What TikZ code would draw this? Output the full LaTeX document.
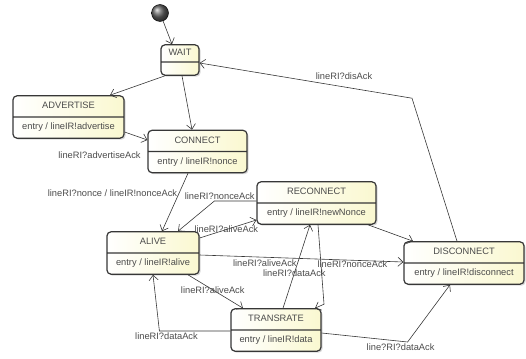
\documentclass[tikz,border=0pt]{standalone}
\usepackage{fontspec}
\setmainfont{Liberation Sans}
\usetikzlibrary{shapes.multipart,shadows,arrows.meta}
\definecolor{stfill}{RGB}{250,248,208}
\definecolor{stline}{RGB}{55,55,55}
\definecolor{txt}{RGB}{75,75,75}

\begin{document}
\begin{tikzpicture}[x=1pt,y=-1pt,
  state/.style={rectangle split, rectangle split parts=2, draw=stline, line width=1.2pt,
    rounded corners=4pt, left color=white, right color=stfill,
    drop shadow={shadow xshift=1.5pt,shadow yshift=-1.5pt,opacity=.3},
    font=\fontsize{9.3}{11}\selectfont, text=txt, inner ysep=4.5pt},
  lbl/.style={font=\fontsize{9.3}{11}\selectfont, text=txt, inner sep=1.5pt},
  tr/.style={->, draw=stline, line width=.6pt, >={Straight Barb[length=5pt,width=9pt]}}]
\useasboundingbox (0,0) rectangle (526,358);

\node [circle, draw=black, ball color=gray!80!black, minimum size=17pt, inner sep=0] (init) at (160,13) {};
\node [state, minimum width=38pt, inner ysep=2.5pt, rectangle split empty part height=7pt] (wait) at (180,60) {\strut WAIT};
\node [state, minimum width=111pt] (advertise) at (68.5,117) {\strut ADVERTISE \nodepart{two}\strut entry / lineIR!advertise};
\node [state, minimum width=99pt] (connect) at (197.5,151.5) {\strut CONNECT \nodepart{two}\strut entry / lineIR!nonce};
\node [state, minimum width=92pt] (alive) at (153,253) {\strut ALIVE \nodepart{two}\strut entry / lineIR!alive};
\node [state, minimum width=119pt] (reconnect) at (316.5,203) {\strut RECONNECT \nodepart{two}\strut entry / lineIR!newNonce};
\node [state, minimum width=120pt] (disconnect) at (464,263) {\strut DISCONNECT \nodepart{two}\strut entry / lineIR!disconnect};
\node [state, minimum width=90pt] (transrate) at (276,330) {\strut TRANSRATE \nodepart{two}\strut entry / lineIR!data};

\draw [tr] (init) -- ([xshift=-8pt]wait.north);
\draw [tr] ([xshift=-15pt]wait.south) -- ([xshift=41.5pt]advertise.north);
\draw [tr] ([xshift=2pt]wait.south) -- ([xshift=-5.5pt]connect.north);
\draw [tr] ([yshift=-15pt]advertise.east) -- node[lbl, pos=1, anchor=east, xshift=-5pt, yshift=-15pt] {lineRI?advertiseAck} ([yshift=11.5pt]connect.west);
\draw [tr] ([xshift=-9.5pt]connect.south) -- node[lbl, pos=.35, left] {lineRI?nonce / lineIR!nonceAck} ([xshift=9pt]alive.north);
\draw [tr] ([yshift=2pt]reconnect.west) -- node[lbl, pos=0, above left] {lineRI?nonceAck} ++(-42pt,0) -- ([xshift=25pt]alive.north);
\draw [tr] ([yshift=15pt]alive.east) -- node[lbl, pos=.47] {lineRI?aliveAck} ([yshift=-17pt]reconnect.west);
\draw [tr] ([yshift=-2pt]alive.east) -- node[lbl, pos=.32, yshift=-6pt] {lineRI?aliveAck}
  node[lbl, pos=.75, yshift=-4pt] {lineRI?nonceAck} ([yshift=1pt]disconnect.west);
\draw [tr] ([xshift=51.5pt]reconnect.south) -- ([xshift=-51pt]disconnect.north);
\draw [tr] ([xshift=7pt]transrate.north) -- node[lbl, pos=.42] {lineRI?dataAck} ([xshift=-6.5pt]reconnect.south);
\draw [tr] ([xshift=1.5pt]reconnect.south) -- ([xshift=48pt,yshift=4pt]transrate.north) -- ([xshift=39pt]transrate.north);
\draw [tr] ([xshift=35pt]alive.south) -- node[lbl, pos=.45] {lineRI?aliveAck} ([xshift=-33pt]transrate.north);
\draw [tr] ([yshift=-1pt]transrate.west) -- node[lbl, pos=.9, below] {lineRI?dataAck} ++(-71pt,0) -- (alive.south);
\draw [tr] ([yshift=-3pt]transrate.east) -- node[lbl, pos=1, below, xshift=-7pt] {line?RI?dataAck} ++(86pt,-9pt) -- ([xshift=-14pt]disconnect.south);
\draw [tr] ([xshift=-7pt]disconnect.north) -- ++(-45pt,143pt) -- node[lbl, pos=.32, yshift=11pt] {lineRI?disAck} ([yshift=-3pt]wait.east);

\end{tikzpicture}
\end{document}
